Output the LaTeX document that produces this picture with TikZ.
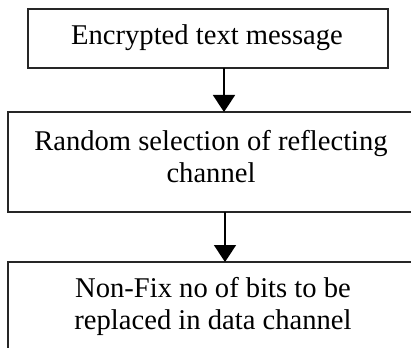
\documentclass[tikz,border=0pt]{standalone}
\usepackage{fontspec}
\setmainfont{Liberation Serif}
\usetikzlibrary{arrows.meta}
\begin{document}
\begin{tikzpicture}[x=1pt,y=-1pt,
 box/.style={draw=black!85, line width=1.7pt, inner sep=0pt, outer sep=0pt, anchor=north west},
 txt/.style={font=\fontsize{28.6}{32}\selectfont, align=center, inner sep=0pt},
 arr/.style={line width=1.7pt, -{Triangle[width=22pt,length=17pt]}}]
\useasboundingbox (0,0) rectangle (411,347);
\clip (0,0) rectangle (411,347);
\node[box, minimum width=360pt, minimum height=59pt] (b1) at (28,9) {};
\node[box, minimum width=408pt, minimum height=100pt] (b2) at (8,112) {};
\node[box, minimum width=408pt, minimum height=95pt] (b3) at (8,262) {};
\node[txt] (t1) at (207,38) {Encrypted text message};
\node[txt] (t2) at (211,157) {Random selection of reflecting\\channel};
\node[txt] (t3) at (213,306) {Non-Fix no of bits to be\\replaced in data channel};
\coordinate (a1) at (224,0);
\coordinate (a2) at (225,0);
\draw[arr] (b1.south -| a1) -- (b2.north -| a1);
\draw[arr] (b2.south -| a2) -- (b3.north -| a2);
\end{tikzpicture}
\end{document}
